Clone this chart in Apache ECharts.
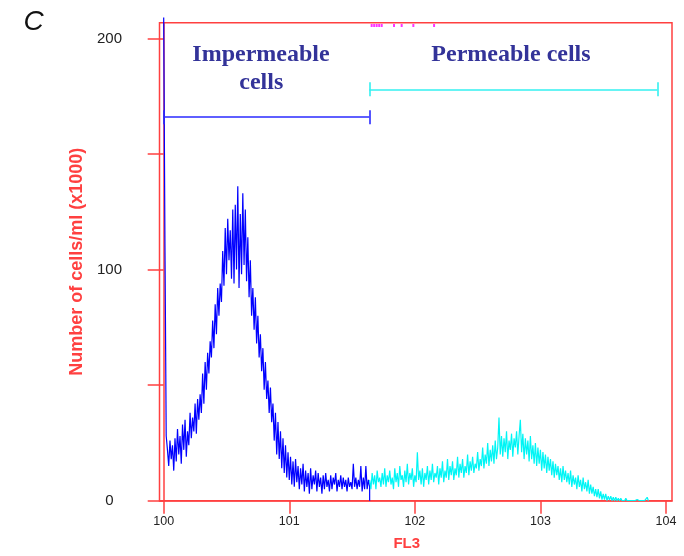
<!DOCTYPE html>
<html><head><meta charset="utf-8">
<script src="https://cdn.jsdelivr.net/npm/echarts@6/dist/echarts.min.js"></script>
<style>html,body{margin:0;padding:0;background:#fff}#c{width:684px;height:556px}</style>
</head><body><div id="c"></div>
<script>
// FL3 in decades (log10), one value every channelStep decades
const channelStep = 0.01;
const blueStart = 0;
const blueValues = [
  209,111,28,22,15,26,18,24,13,27,
  17,31,20,28,16,33,22,35,19,30,
  24,38,27,36,30,42,29,44,35,46,
  38,55,42,60,48,64,55,69,62,78,
  66,85,72,92,80,94,86,108,93,118,
  98,122,104,117,96,126,94,128,100,136,
  92,124,98,133,102,126,95,114,88,104,
  80,92,74,88,68,80,62,72,56,66,
  48,60,44,52,38,49,34,42,26,38,
  20,34,18,30,14,27,12,24,10,21,
  9,19,7,17,6,18,8,15,5,14,
  7,16,4,13,6,12,3,14,5,11,
  7,13,4,12,6,10,3,11,5,12,
  6,9,4,11,5,10,7,12,4,9,
  6,11,5,10,6,9,4,10,6,8,
  5,16,6,10,5,9,6,15,4,10,
  5,15,5,9,6];
const cyanStart = 1.64;
const cyanValues = [
  9,5,12,7,11,5,13,8,10,6,
  12,7,14,6,11,8,13,7,10,5,
  14,8,12,6,15,9,11,6,13,8,
  16,7,12,9,14,6,11,8,21,9,
  13,7,14,6,12,9,15,7,13,9,
  16,8,12,10,15,7,14,10,17,8,
  13,10,18,9,15,11,17,9,14,11,
  19,10,16,12,18,10,15,12,20,11,
  17,13,19,12,16,14,21,13,18,15,
  23,14,20,16,25,15,22,17,24,16,
  26,18,23,36,20,28,19,27,21,30,
  18,26,22,29,19,27,23,30,20,28,
  35,21,29,18,27,20,26,17,28,18,
  24,16,25,15,23,16,22,13,21,14,
  20,12,19,13,18,11,17,10,16,11,
  15,9,14,8,15,9,13,8,12,7,
  13,6,11,7,10,5,11,6,9,4,
  10,5,8,4,9,3,7,3,6,2,
  5,1.5,5,1,4,0.5,3,0.5,3,0,
  2,0.3,2,0,1.5,0,1.5,0,1,0,
  1,0,0.8,0,1,0,0.5,0,0.8,0,
  0.5,0,0,0.5,0,0,0.3,0,0,0,
  0,1.5,0];
const offscaleX = [1.656, 1.676, 1.696, 1.716, 1.736, 1.834, 1.895, 1.988, 2.153];
const offscaleLevel = 205.6;
const xTickValues = [0, 1, 2, 3, 4];
const xTickLabels = ['100', '101', '102', '103', '104'];
const yTickValues = [0, 50, 100, 150, 200];
const yLabelValues = [0, 100, 200];
const impermeableGate = [0, 1.637];
const impermeableLevel = 165.9;
const permeableGate = [1.637, 3.931];
const permeableLevel = 178;
const gateTickHalf = 3;

const blueData = blueValues.map((v, i) => [blueStart + i * channelStep, v]);
blueData.push([blueStart + (blueValues.length - 1) * channelStep, 0]);
const cyanData = cyanValues.map((v, i) => [cyanStart + i * channelStep, v]);

function gateLines(g, lvl) {
  return [
    {coords: [[g[0], lvl], [g[1], lvl]]},
    {coords: [[g[0], lvl - gateTickHalf], [g[0], lvl + gateTickHalf]]},
    {coords: [[g[1], lvl - gateTickHalf], [g[1], lvl + gateTickHalf]]}
  ];
}

const RED = '#ff4040';
const chart = echarts.init(document.getElementById('c'));
chart.setOption({
  animation: false,
  backgroundColor: '#fff',
  grid: {left: 159.5, right: 12, top: 22.7, bottom: 55.3, show: true, borderColor: RED, borderWidth: 1.5, containLabel: false, outerBoundsMode: 'none'},
  xAxis: {
    type: 'value', min: -0.0334, max: 4.0477,
    name: 'FL3', nameLocation: 'middle', nameGap: 36,
    nameTextStyle: {color: RED, fontWeight: 'bold', fontSize: 15, fontFamily: 'Liberation Sans', padding: [0, 18, 0, 0]},
    axisLine: {show: true, lineStyle: {color: RED, width: 1.5}},
    axisTick: {show: true, inside: false, length: 13, lineStyle: {color: RED, width: 1.5}, customValues: xTickValues},
    axisLabel: {show: true, margin: 14, fontSize: 12.5, fontFamily: 'Liberation Sans', color: '#222', customValues: xTickValues,
      formatter: v => { const i = xTickValues.indexOf(Math.round(v)); return i >= 0 ? xTickLabels[i] : ''; }},
    splitLine: {show: false}
  },
  yAxis: {
    type: 'value', min: 0, max: 206.8,
    name: 'Number of cells/ml (x1000)', nameLocation: 'middle', nameGap: 69, nameRotate: 90,
    nameTextStyle: {color: RED, fontWeight: 'bold', fontSize: 18, fontFamily: 'Liberation Sans'},
    axisLine: {show: true, lineStyle: {color: RED, width: 1.5}},
    axisTick: {show: true, inside: false, length: 16, lineStyle: {color: RED, width: 1.5}, customValues: yTickValues},
    axisLabel: {show: true, margin: 50, align: 'center', fontSize: 15, fontFamily: 'Liberation Sans', color: '#222', customValues: yLabelValues,
      formatter: v => yLabelValues.indexOf(Math.round(v)) >= 0 ? String(Math.round(v)) : ''},
    splitLine: {show: false}
  },
  series: [
    {type: 'line', data: blueData, showSymbol: false, symbol: 'none', clip: false,
     lineStyle: {color: '#0000ff', width: 1.2}, z: 3},
    {type: 'line', data: cyanData, showSymbol: false, symbol: 'none',
     lineStyle: {color: '#00f5f5', width: 1.2}, z: 3},
    {type: 'lines', coordinateSystem: 'cartesian2d', data: gateLines(impermeableGate, impermeableLevel),
     lineStyle: {color: '#2a2aff', width: 1.6, opacity: 1}, z: 4},
    {type: 'lines', coordinateSystem: 'cartesian2d', data: gateLines(permeableGate, permeableLevel),
     lineStyle: {color: '#33f0f0', width: 1.6, opacity: 1}, z: 4},
    {type: 'scatter', data: offscaleX.map(x => [x, offscaleLevel]), symbol: 'rect', symbolSize: [2, 3],
     itemStyle: {color: '#ff00ff'}, z: 2}
  ],
  graphic: [
    {type: 'text', x: 33.7, y: 22, style: {text: 'C', font: 'italic 28px "Liberation Sans"', fill: '#111', align: 'center', verticalAlign: 'middle'}},
    {type: 'text', x: 261, y: 55.2, style: {text: 'Impermeable', font: 'bold 24px "Liberation Serif"', fill: '#333399', align: 'center', verticalAlign: 'middle'}},
    {type: 'text', x: 261.3, y: 82.6, style: {text: 'cells', font: 'bold 24px "Liberation Serif"', fill: '#333399', align: 'center', verticalAlign: 'middle'}},
    {type: 'text', x: 511, y: 55.2, style: {text: 'Permeable cells', font: 'bold 24px "Liberation Serif"', fill: '#333399', align: 'center', verticalAlign: 'middle'}}
  ]
});
</script>
</body></html>
